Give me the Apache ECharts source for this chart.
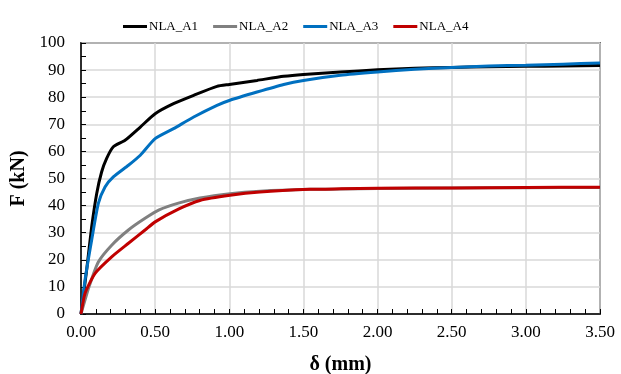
<!DOCTYPE html>
<html>
<head>
<meta charset="utf-8">
<script src="https://cdn.jsdelivr.net/npm/echarts@6/dist/echarts.min.js"></script>
<style>
  html, body { margin: 0; padding: 0; background: #fff; }
  #chart { width: 621px; height: 374px; }
</style>
</head>
<body>
<div id="chart"></div>
<script>
// 数据: [δ (mm), F (kN)]
var seriesNames = ['NLA_A1', 'NLA_A2', 'NLA_A3', 'NLA_A4']
var seriesColors = ['#000000', '#808080', '#0070C0', '#C00000']

var curveA1 = [
  [0, 0], [0.038, 16.2], [0.072, 32.2], [0.106, 44.5], [0.139, 52.4], [0.173, 57.4],
  [0.218, 61.7], [0.297, 64.1], [0.4, 69], [0.5, 73.9], [0.624, 77.6], [0.76, 80.7],
  [0.917, 84], [1.0, 84.7], [1.187, 86.2], [1.367, 87.7], [1.5, 88.4], [1.75, 89.3],
  [2.0, 90.1], [2.25, 90.7], [2.5, 91.0], [2.75, 91.2], [3.0, 91.4], [3.25, 91.5], [3.5, 91.7]
]
var curveA2 = [
  [0, 0], [0.054, 10], [0.117, 19.2], [0.207, 25.4], [0.32, 31], [0.432, 35.3], [0.527, 38.4],
  [0.657, 40.9], [0.802, 42.8], [1.005, 44.4], [1.207, 45.3], [1.544, 46.0],
  [1.75, 46.1], [2.0, 46.3], [2.5, 46.5], [3.0, 46.6], [3.5, 46.7]
]
var curveA3 = [
  [0, 0], [0.027, 12.5], [0.072, 27.3], [0.117, 40.8], [0.162, 46.9], [0.218, 50.6],
  [0.32, 54.9], [0.4, 58.6], [0.5, 64.7], [0.624, 68.4], [0.76, 72.7], [0.917, 77],
  [1.0, 78.8], [1.187, 81.9], [1.367, 84.7], [1.5, 86.2], [1.75, 88.1], [2.0, 89.3],
  [2.25, 90.3], [2.5, 91.0], [2.75, 91.5], [3.0, 91.8], [3.25, 92.2], [3.5, 92.6]
]
var curveA4 = [
  [0, 0], [0.027, 7.6], [0.095, 15], [0.207, 21.1], [0.32, 26.1], [0.432, 31], [0.5, 34],
  [0.657, 38.7], [0.802, 41.9], [1.005, 43.8], [1.207, 45.0], [1.544, 46.0],
  [1.75, 46.2], [2.0, 46.4], [2.5, 46.5], [3.0, 46.7], [3.5, 46.8]
]
var curves = [curveA1, curveA2, curveA3, curveA4]

var serif = 'Liberation Serif'

var chart = echarts.init(document.getElementById('chart'))
chart.setOption({
  animation: false,
  legend: {
    top: 15,
    left: 118,
    itemGap: 15,
    itemWidth: 24,
    itemHeight: 3,
    icon: 'rect',
    textStyle: { fontFamily: serif, fontSize: 13, color: '#000', padding: [0, 0, 0, -3] },
    data: seriesNames
  },
  grid: {
    left: 81, right: 21, top: 43, bottom: 60,
    outerBoundsMode: 'none',
    show: true, borderColor: '#000', borderWidth: 1.5
  },
  xAxis: {
    type: 'value',
    min: 0, max: 3.5, interval: 0.5,
    name: 'δ (mm)',
    nameLocation: 'middle',
    nameGap: 41,
    nameTextStyle: { fontFamily: serif, fontSize: 20, fontWeight: 'bold', color: '#000' },
    axisLine: { lineStyle: { color: '#000', width: 1.5 } },
    axisTick: { inside: true, length: 5, lineStyle: { color: '#000' } },
    minorTick: { show: true, splitNumber: 5, length: 5, lineStyle: { color: '#000' } },
    axisLabel: {
      fontFamily: serif, fontSize: 17, color: '#000', margin: 10,
      formatter: function (v) { return v.toFixed(2) }
    },
    splitLine: { lineStyle: { color: '#d9d9d9', width: 1.5 } }
  },
  yAxis: {
    type: 'value',
    min: 0, max: 100, interval: 10,
    name: 'F (kN)',
    nameLocation: 'middle',
    nameGap: 52,
    nameTextStyle: { fontFamily: serif, fontSize: 20, fontWeight: 'bold', color: '#000' },
    axisLine: { show: true, lineStyle: { color: '#000', width: 1.5 } },
    axisTick: { show: true, inside: true, length: 5, lineStyle: { color: '#000' } },
    minorTick: { show: true, splitNumber: 2, length: 5, lineStyle: { color: '#000' } },
    axisLabel: { fontFamily: serif, fontSize: 17, color: '#000', margin: 16 },
    splitLine: { lineStyle: { color: '#d9d9d9', width: 1.5 } }
  },
  series: curves.map(function (c, i) {
    return {
      name: seriesNames[i],
      type: 'line',
      data: c,
      smooth: 0.2,
      showSymbol: false,
      color: seriesColors[i],
      lineStyle: { width: 3, color: seriesColors[i] }
    }
  })
})
</script>
</body>
</html>
